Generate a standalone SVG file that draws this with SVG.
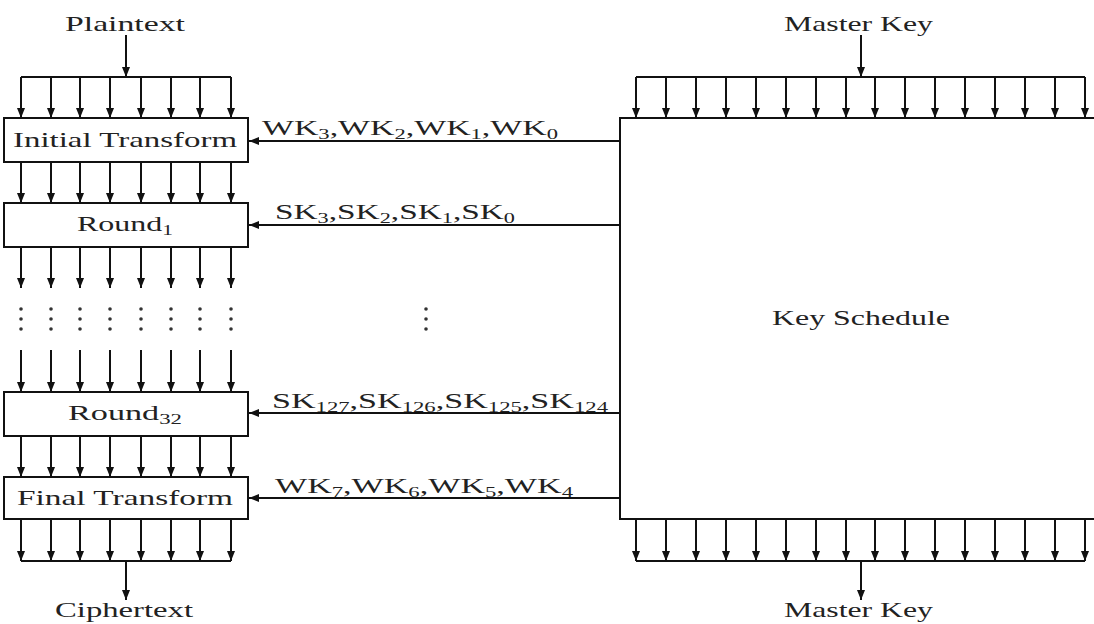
<svg xmlns="http://www.w3.org/2000/svg" width="1094" height="624" viewBox="0 0 1094 624">
<defs>
<marker id="ah" markerUnits="userSpaceOnUse" markerWidth="10" markerHeight="8" refX="10" refY="4" orient="auto">
<path d="M0,0 L10,4 L0,8 z" fill="#111"/>
</marker>
<style>
.ln{stroke:#111;stroke-width:2;fill:none}
.ar{stroke:#111;stroke-width:2;fill:none;marker-end:url(#ah)}
.bx{stroke:#111;stroke-width:2;fill:#fff}
.t{font-family:"Liberation Serif","DejaVu Serif",serif;font-size:21px;fill:#222}
.s{font-size:14px}
.dot{fill:#333}
</style>
</defs>
<rect width="1094" height="624" fill="#fff"/>

<g id="connectors">
<!-- plaintext input -->
<line class="ar" x1="126" y1="35" x2="126" y2="77"/>
<line class="ln" x1="21" y1="77" x2="231" y2="77"/>
<line class="ar" x1="21" y1="77" x2="21" y2="118"/>
<line class="ar" x1="51" y1="77" x2="51" y2="118"/>
<line class="ar" x1="80" y1="77" x2="80" y2="118"/>
<line class="ar" x1="110" y1="77" x2="110" y2="118"/>
<line class="ar" x1="141" y1="77" x2="141" y2="118"/>
<line class="ar" x1="171" y1="77" x2="171" y2="118"/>
<line class="ar" x1="200" y1="77" x2="200" y2="118"/>
<line class="ar" x1="231" y1="77" x2="231" y2="118"/>
<!-- initial -> round1 -->
<line class="ar" x1="21" y1="162" x2="21" y2="203"/>
<line class="ar" x1="51" y1="162" x2="51" y2="203"/>
<line class="ar" x1="80" y1="162" x2="80" y2="203"/>
<line class="ar" x1="110" y1="162" x2="110" y2="203"/>
<line class="ar" x1="141" y1="162" x2="141" y2="203"/>
<line class="ar" x1="171" y1="162" x2="171" y2="203"/>
<line class="ar" x1="200" y1="162" x2="200" y2="203"/>
<line class="ar" x1="231" y1="162" x2="231" y2="203"/>
<!-- round1 -> dots -->
<line class="ar" x1="21" y1="247" x2="21" y2="288"/>
<line class="ar" x1="51" y1="247" x2="51" y2="288"/>
<line class="ar" x1="80" y1="247" x2="80" y2="288"/>
<line class="ar" x1="110" y1="247" x2="110" y2="288"/>
<line class="ar" x1="141" y1="247" x2="141" y2="288"/>
<line class="ar" x1="171" y1="247" x2="171" y2="288"/>
<line class="ar" x1="200" y1="247" x2="200" y2="288"/>
<line class="ar" x1="231" y1="247" x2="231" y2="288"/>
<!-- dots -> round32 -->
<line class="ar" x1="21" y1="350" x2="21" y2="392"/>
<line class="ar" x1="51" y1="350" x2="51" y2="392"/>
<line class="ar" x1="80" y1="350" x2="80" y2="392"/>
<line class="ar" x1="110" y1="350" x2="110" y2="392"/>
<line class="ar" x1="141" y1="350" x2="141" y2="392"/>
<line class="ar" x1="171" y1="350" x2="171" y2="392"/>
<line class="ar" x1="200" y1="350" x2="200" y2="392"/>
<line class="ar" x1="231" y1="350" x2="231" y2="392"/>
<!-- round32 -> final -->
<line class="ar" x1="21" y1="436" x2="21" y2="477"/>
<line class="ar" x1="51" y1="436" x2="51" y2="477"/>
<line class="ar" x1="80" y1="436" x2="80" y2="477"/>
<line class="ar" x1="110" y1="436" x2="110" y2="477"/>
<line class="ar" x1="141" y1="436" x2="141" y2="477"/>
<line class="ar" x1="171" y1="436" x2="171" y2="477"/>
<line class="ar" x1="200" y1="436" x2="200" y2="477"/>
<line class="ar" x1="231" y1="436" x2="231" y2="477"/>
<!-- final -> ciphertext -->
<line class="ar" x1="21" y1="519" x2="21" y2="561"/>
<line class="ar" x1="51" y1="519" x2="51" y2="561"/>
<line class="ar" x1="80" y1="519" x2="80" y2="561"/>
<line class="ar" x1="110" y1="519" x2="110" y2="561"/>
<line class="ar" x1="141" y1="519" x2="141" y2="561"/>
<line class="ar" x1="171" y1="519" x2="171" y2="561"/>
<line class="ar" x1="200" y1="519" x2="200" y2="561"/>
<line class="ar" x1="231" y1="519" x2="231" y2="561"/>
<line class="ln" x1="21" y1="561" x2="231" y2="561"/>
<line class="ar" x1="126" y1="561" x2="126" y2="600"/>

<!-- master key top -->
<line class="ar" x1="861" y1="35" x2="861" y2="77"/>
<line class="ln" x1="636" y1="77" x2="1085" y2="77"/>
<line class="ar" x1="636" y1="77" x2="636" y2="118"/>
<line class="ar" x1="666" y1="77" x2="666" y2="118"/>
<line class="ar" x1="696" y1="77" x2="696" y2="118"/>
<line class="ar" x1="726" y1="77" x2="726" y2="118"/>
<line class="ar" x1="756" y1="77" x2="756" y2="118"/>
<line class="ar" x1="786" y1="77" x2="786" y2="118"/>
<line class="ar" x1="816" y1="77" x2="816" y2="118"/>
<line class="ar" x1="846" y1="77" x2="846" y2="118"/>
<line class="ar" x1="875" y1="77" x2="875" y2="118"/>
<line class="ar" x1="905" y1="77" x2="905" y2="118"/>
<line class="ar" x1="935" y1="77" x2="935" y2="118"/>
<line class="ar" x1="965" y1="77" x2="965" y2="118"/>
<line class="ar" x1="995" y1="77" x2="995" y2="118"/>
<line class="ar" x1="1025" y1="77" x2="1025" y2="118"/>
<line class="ar" x1="1055" y1="77" x2="1055" y2="118"/>
<line class="ar" x1="1085" y1="77" x2="1085" y2="118"/>
<!-- master key bottom -->
<line class="ar" x1="636" y1="519" x2="636" y2="561"/>
<line class="ar" x1="666" y1="519" x2="666" y2="561"/>
<line class="ar" x1="696" y1="519" x2="696" y2="561"/>
<line class="ar" x1="726" y1="519" x2="726" y2="561"/>
<line class="ar" x1="756" y1="519" x2="756" y2="561"/>
<line class="ar" x1="786" y1="519" x2="786" y2="561"/>
<line class="ar" x1="816" y1="519" x2="816" y2="561"/>
<line class="ar" x1="846" y1="519" x2="846" y2="561"/>
<line class="ar" x1="875" y1="519" x2="875" y2="561"/>
<line class="ar" x1="905" y1="519" x2="905" y2="561"/>
<line class="ar" x1="935" y1="519" x2="935" y2="561"/>
<line class="ar" x1="965" y1="519" x2="965" y2="561"/>
<line class="ar" x1="995" y1="519" x2="995" y2="561"/>
<line class="ar" x1="1025" y1="519" x2="1025" y2="561"/>
<line class="ar" x1="1055" y1="519" x2="1055" y2="561"/>
<line class="ar" x1="1085" y1="519" x2="1085" y2="561"/>
<line class="ln" x1="636" y1="561" x2="1085" y2="561"/>
<line class="ar" x1="861" y1="561" x2="861" y2="600"/>

<!-- round keys -->
<line class="ar" x1="620" y1="141" x2="249" y2="141"/>
<line class="ar" x1="620" y1="225" x2="249" y2="225"/>
<line class="ar" x1="620" y1="413" x2="249" y2="413"/>
<line class="ar" x1="620" y1="498" x2="249" y2="498"/>

<!-- ellipsis dots -->
<g class="dot">
<circle cx="21" cy="309" r="1.8"/><circle cx="21" cy="319" r="1.8"/><circle cx="21" cy="329" r="1.8"/>
<circle cx="51" cy="309" r="1.8"/><circle cx="51" cy="319" r="1.8"/><circle cx="51" cy="329" r="1.8"/>
<circle cx="80" cy="309" r="1.8"/><circle cx="80" cy="319" r="1.8"/><circle cx="80" cy="329" r="1.8"/>
<circle cx="110" cy="309" r="1.8"/><circle cx="110" cy="319" r="1.8"/><circle cx="110" cy="329" r="1.8"/>
<circle cx="141" cy="309" r="1.8"/><circle cx="141" cy="319" r="1.8"/><circle cx="141" cy="329" r="1.8"/>
<circle cx="171" cy="309" r="1.8"/><circle cx="171" cy="319" r="1.8"/><circle cx="171" cy="329" r="1.8"/>
<circle cx="200" cy="309" r="1.8"/><circle cx="200" cy="319" r="1.8"/><circle cx="200" cy="329" r="1.8"/>
<circle cx="231" cy="309" r="1.8"/><circle cx="231" cy="319" r="1.8"/><circle cx="231" cy="329" r="1.8"/>
<circle cx="426" cy="309" r="1.8"/><circle cx="426" cy="319" r="1.8"/><circle cx="426" cy="329" r="1.8"/>
</g>

<!-- key labels -->
<text class="t" x="262" y="135" textLength="296" lengthAdjust="spacingAndGlyphs">WK<tspan class="s" dy="4">3</tspan><tspan dy="-4">,WK</tspan><tspan class="s" dy="4">2</tspan><tspan dy="-4">,WK</tspan><tspan class="s" dy="4">1</tspan><tspan dy="-4">,WK</tspan><tspan class="s" dy="4">0</tspan></text>
<text class="t" x="275" y="219" textLength="240" lengthAdjust="spacingAndGlyphs">SK<tspan class="s" dy="4">3</tspan><tspan dy="-4">,SK</tspan><tspan class="s" dy="4">2</tspan><tspan dy="-4">,SK</tspan><tspan class="s" dy="4">1</tspan><tspan dy="-4">,SK</tspan><tspan class="s" dy="4">0</tspan></text>
<text class="t" x="272" y="408" textLength="336" lengthAdjust="spacingAndGlyphs">SK<tspan class="s" dy="4">127</tspan><tspan dy="-4">,SK</tspan><tspan class="s" dy="4">126</tspan><tspan dy="-4">,SK</tspan><tspan class="s" dy="4">125</tspan><tspan dy="-4">,SK</tspan><tspan class="s" dy="4">124</tspan></text>
<text class="t" x="275" y="493" textLength="298" lengthAdjust="spacingAndGlyphs">WK<tspan class="s" dy="4">7</tspan><tspan dy="-4">,WK</tspan><tspan class="s" dy="4">6</tspan><tspan dy="-4">,WK</tspan><tspan class="s" dy="4">5</tspan><tspan dy="-4">,WK</tspan><tspan class="s" dy="4">4</tspan></text>
</g>

<g id="plaintext"><text class="t" x="65" y="31" textLength="120" lengthAdjust="spacingAndGlyphs">Plaintext</text></g>
<g id="ciphertext"><text class="t" x="55" y="617" textLength="138" lengthAdjust="spacingAndGlyphs">Ciphertext</text></g>
<g id="masterkey-top"><text class="t" x="784" y="31" textLength="149" lengthAdjust="spacingAndGlyphs">Master Key</text></g>
<g id="masterkey-bottom"><text class="t" x="784" y="617" textLength="149" lengthAdjust="spacingAndGlyphs">Master Key</text></g>

<g id="initial-transform">
<rect class="bx" x="4" y="118" width="244" height="44"/>
<text class="t" x="13" y="147" textLength="224" lengthAdjust="spacingAndGlyphs">Initial Transform</text>
</g>
<g id="round1">
<rect class="bx" x="4" y="203" width="244" height="44"/>
<text class="t" x="77" y="231" textLength="96" lengthAdjust="spacingAndGlyphs">Round<tspan class="s" dy="4">1</tspan></text>
</g>
<g id="round32">
<rect class="bx" x="4" y="392" width="244" height="44"/>
<text class="t" x="68" y="420" textLength="114" lengthAdjust="spacingAndGlyphs">Round<tspan class="s" dy="4">32</tspan></text>
</g>
<g id="final-transform">
<rect class="bx" x="4" y="477" width="244" height="42"/>
<text class="t" x="17" y="505" textLength="216" lengthAdjust="spacingAndGlyphs">Final Transform</text>
</g>
<g id="key-schedule">
<rect class="bx" x="620" y="118" width="490" height="401"/>
<text class="t" x="772" y="325" textLength="178" lengthAdjust="spacingAndGlyphs">Key Schedule</text>
</g>
</svg>
